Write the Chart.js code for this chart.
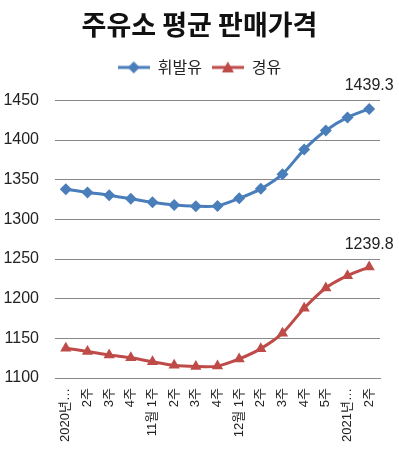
<!DOCTYPE html>
<html>
<head>
<meta charset="utf-8">
<script src="https://cdn.jsdelivr.net/npm/chart.js@4"></script>
<style>
  html, body { margin: 0; padding: 0; background: #fff; }
  #wrap { width: 399px; height: 451px; position: relative; }
</style>
</head>
<body>
<div id="wrap"><canvas id="priceChart"></canvas></div>
<script>
const weeks = ['2020년…', '2주', '3주', '4주', '11월 1주', '2주', '3주', '4주', '12월 1주', '2주', '3주', '4주', '5주', '2021년…', '2주'];
const gasoline = [1338, 1334, 1330.5, 1326, 1321.5, 1318, 1316.5, 1317, 1326.5, 1338.5, 1357, 1388, 1412, 1428.5, 1439.3];
const diesel = [1137.5, 1133.5, 1129, 1125.5, 1120.5, 1116, 1114.5, 1115, 1124, 1137, 1156.5, 1188, 1213.5, 1229, 1239.8];
const yTicks = [1100, 1150, 1200, 1250, 1300, 1350, 1400, 1450];

const BLUE = '#4a7ebb';
const RED = '#be4b48';
const FONT = "'Liberation Sans', 'Noto Sans CJK KR', sans-serif";
const KFONT = "'Noto Sans CJK KR', 'Liberation Sans', sans-serif";

// small line+marker picture for the legend
function legendIcon(color, shape) {
    const c = document.createElement('canvas');
    c.width = 32; c.height = 14;
    const g = c.getContext('2d');
    g.strokeStyle = color; g.lineWidth = 3;
    g.beginPath(); g.moveTo(0, 7); g.lineTo(32, 7); g.stroke();
    g.fillStyle = color;
    g.beginPath();
    if (shape === 'diamond') {
        g.moveTo(16, 1); g.lineTo(22, 7); g.lineTo(16, 13); g.lineTo(10, 7);
    } else {
        g.moveTo(16, 1); g.lineTo(22, 12); g.lineTo(10, 12);
    }
    g.closePath(); g.fill();
    return c;
}
const icons = [legendIcon(BLUE, 'diamond'), legendIcon(RED, 'triangle')];

// value label over the last point of each line
const lastValueLabel = {
    id: 'lastValueLabel',
    afterDatasetsDraw(chart) {
        const ctx = chart.ctx;
        ctx.save();
        ctx.font = '16px ' + FONT;
        ctx.fillStyle = '#222';
        ctx.textAlign = 'center';
        ctx.textBaseline = 'middle';
        chart.data.datasets.forEach((ds, i) => {
            const meta = chart.getDatasetMeta(i);
            const p = meta.data[meta.data.length - 1];
            ctx.fillText(ds.data[ds.data.length - 1].toFixed(1), p.x, p.y - 23);
        });
        ctx.restore();
    }
};

document.addEventListener('DOMContentLoaded', function () {
    const ctx = document.getElementById('priceChart');
    new Chart(ctx.getContext('2d'), {
        type: 'line',
        data: {
            labels: weeks,
            datasets: [{
                label: '휘발유',
                data: gasoline,
                borderColor: BLUE,
                backgroundColor: BLUE,
                borderWidth: 3,
                pointStyle: 'rectRot',
                pointRadius: 6,
                pointBorderWidth: 0,
                tension: 0.25
            }, {
                label: '경유',
                data: diesel,
                borderColor: RED,
                backgroundColor: RED,
                borderWidth: 3,
                pointStyle: 'triangle',
                pointRadius: 6.5,
                pointBorderWidth: 0,
                tension: 0.25
            }]
        },
        options: {
            responsive: true,
            maintainAspectRatio: false,
            animation: false,
            layout: { padding: 0 },
            plugins: {
                title: {
                    display: true,
                    text: '주유소 평균 판매가격',
                    color: '#111',
                    font: { family: KFONT, size: 27, weight: 'bold' },
                    padding: { top: 9, bottom: 8 }
                },
                legend: {
                    position: 'top',
                    labels: {
                        usePointStyle: true,
                        pointStyleWidth: 32,
                        color: '#222',
                        font: { family: KFONT, size: 16 },
                        padding: 10,
                        generateLabels(chart) {
                            const items = Chart.defaults.plugins.legend.labels.generateLabels(chart);
                            items.forEach((it, i) => { it.pointStyle = icons[i]; });
                            return items;
                        }
                    }
                },
                tooltip: { enabled: false }
            },
            scales: {
                x: {
                    offset: true,
                    grid: { display: false },
                    border: { display: true, color: '#888', width: 1 },
                    ticks: {
                        autoSkip: false,
                        maxRotation: 90,
                        minRotation: 90,
                        padding: 2,
                        color: '#222',
                        font: { family: FONT, size: 13 }
                    },
                    afterFit(scale) { scale.height = 73; }
                },
                // empty spacer axes, only there to hold the plot area in place
                xTop: {
                    type: 'category',
                    position: 'top',
                    grid: { display: false },
                    border: { display: false },
                    ticks: { display: false },
                    afterFit(scale) { scale.height = 15; }
                },
                yRight: {
                    type: 'linear',
                    position: 'right',
                    grid: { display: false },
                    border: { display: false },
                    ticks: { display: false },
                    afterFit(scale) { scale.width = 19; }
                },
                y: {
                    min: 1100,
                    max: 1450,
                    grid: { color: '#888', lineWidth: 1, drawTicks: false },
                    border: { display: false },
                    afterBuildTicks(scale) { scale.ticks = yTicks.map(v => ({ value: v })); },
                    ticks: {
                        padding: 16,
                        color: '#222',
                        font: { family: FONT, size: 16 },
                        callback: v => String(v)
                    },
                    afterFit(scale) { scale.width = 55; }
                }
            }
        },
        plugins: [lastValueLabel]
    });
});
</script>
</body>
</html>
